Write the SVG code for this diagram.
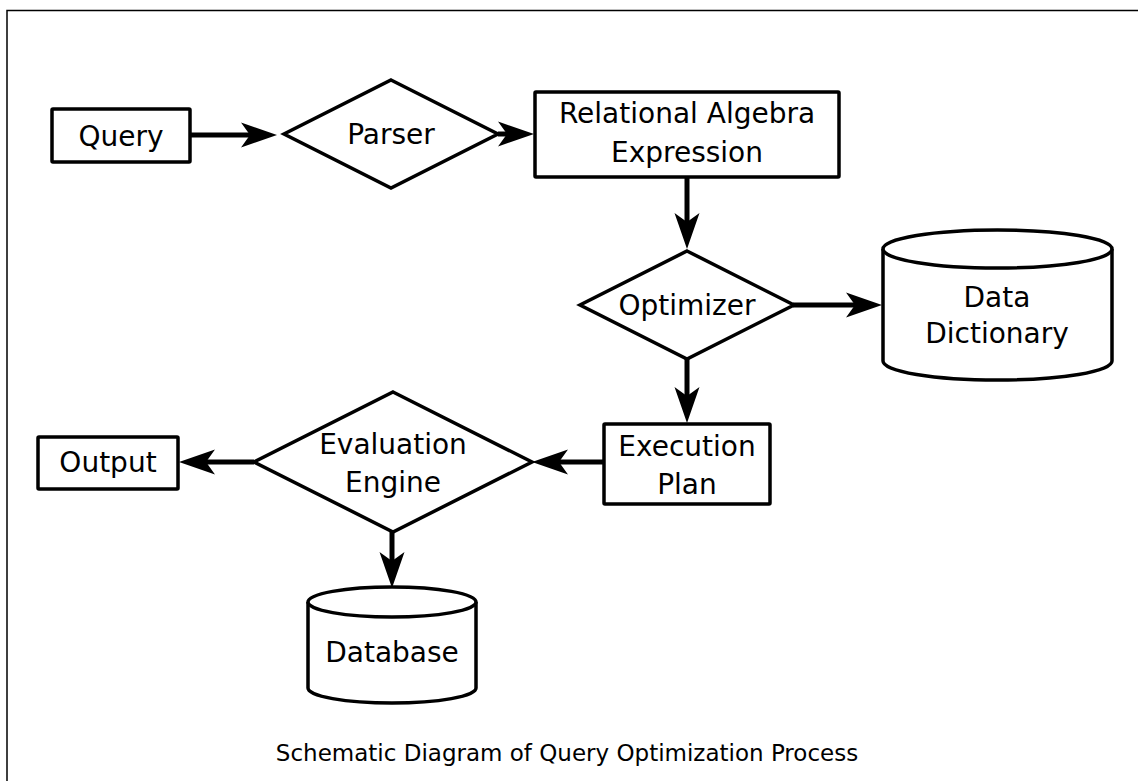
<svg xmlns="http://www.w3.org/2000/svg" width="1138" height="781" viewBox="0 0 1138 781">
  <style>
    .box { fill: #ffffff; stroke: #000000; stroke-width: 3.5; stroke-linejoin: round; }
    .dia { fill: #ffffff; stroke: #000000; stroke-width: 3.5; stroke-linejoin: miter; }
    .cyl { fill: #ffffff; stroke: #000000; stroke-width: 3.5; }
    .lbl { font-family: "DejaVu Sans", "Liberation Sans", sans-serif; font-size: 28px; fill: #000000; text-anchor: middle; }
    .cap { font-family: "DejaVu Sans", "Liberation Sans", sans-serif; font-size: 23px; fill: #000000; text-anchor: middle; }
    .edge { fill: none; stroke: #000000; stroke-width: 5; marker-end: url(#head); }
  </style>
  <defs>
    <!-- notched arrowhead; the line ends at the notch -->
    <marker id="head" markerUnits="userSpaceOnUse" markerWidth="40" markerHeight="30" refX="9" refY="13" orient="auto">
      <path d="M0,0.5 L36,13 L0,25.5 L9,13 Z" fill="#000000"/>
    </marker>
  </defs>

  <!-- frame -->
  <path d="M7,781 V10.5 H1138" fill="none" stroke="#000000" stroke-width="1.5"/>

  <g id="connectors">
    <line class="edge" x1="190" y1="135" x2="250" y2="135"/>
    <line class="edge" x1="498" y1="134" x2="507" y2="134"/>
    <line class="edge" x1="687" y1="177" x2="687" y2="222"/>
    <line class="edge" x1="793" y1="305" x2="855" y2="305"/>
    <line class="edge" x1="687" y1="359" x2="687" y2="396"/>
    <line class="edge" x1="604" y1="462" x2="559" y2="462"/>
    <line class="edge" x1="254" y1="462" x2="206" y2="462"/>
    <line class="edge" x1="392" y1="532" x2="392" y2="561"/>
  </g>

  <g id="query">
    <rect class="box" x="52" y="109" width="138" height="53" rx="1"/>
    <text class="lbl" x="121" y="146">Query</text>
  </g>

  <g id="parser">
    <polygon class="dia" points="391,80 498,134 391,188 284,134"/>
    <text class="lbl" x="391" y="144">Parser</text>
  </g>

  <g id="relational-algebra">
    <rect class="box" x="535" y="92" width="304" height="85" rx="1"/>
    <text class="lbl" x="687" y="123">Relational Algebra</text>
    <text class="lbl" x="687" y="162">Expression</text>
  </g>

  <g id="optimizer">
    <polygon class="dia" points="687,251 794,305 687,359 580,305"/>
    <text class="lbl" x="687" y="315">Optimizer</text>
  </g>

  <g id="data-dictionary">
    <path class="cyl" d="M883,249 V361 A114.5,19 0 0 0 1112,361 V249"/>
    <ellipse class="cyl" cx="997.5" cy="249" rx="114.5" ry="19"/>
    <text class="lbl" x="997" y="307">Data</text>
    <text class="lbl" x="997" y="343">Dictionary</text>
  </g>

  <g id="execution-plan">
    <rect class="box" x="604" y="424" width="166" height="80" rx="1"/>
    <text class="lbl" x="687" y="456">Execution</text>
    <text class="lbl" x="687" y="494">Plan</text>
  </g>

  <g id="evaluation-engine">
    <polygon class="dia" points="393,392 532,462 393,532 254,462"/>
    <text class="lbl" x="393" y="454">Evaluation</text>
    <text class="lbl" x="393" y="492">Engine</text>
  </g>

  <g id="output">
    <rect class="box" x="38" y="437" width="140" height="52" rx="1"/>
    <text class="lbl" x="108" y="472">Output</text>
  </g>

  <g id="database">
    <path class="cyl" d="M308,602 V688 A84,15 0 0 0 476,688 V602"/>
    <ellipse class="cyl" cx="392" cy="602" rx="84" ry="15"/>
    <text class="lbl" x="392" y="662">Database</text>
  </g>

  <text class="cap" x="567" y="761">Schematic Diagram of Query Optimization Process</text>
</svg>
